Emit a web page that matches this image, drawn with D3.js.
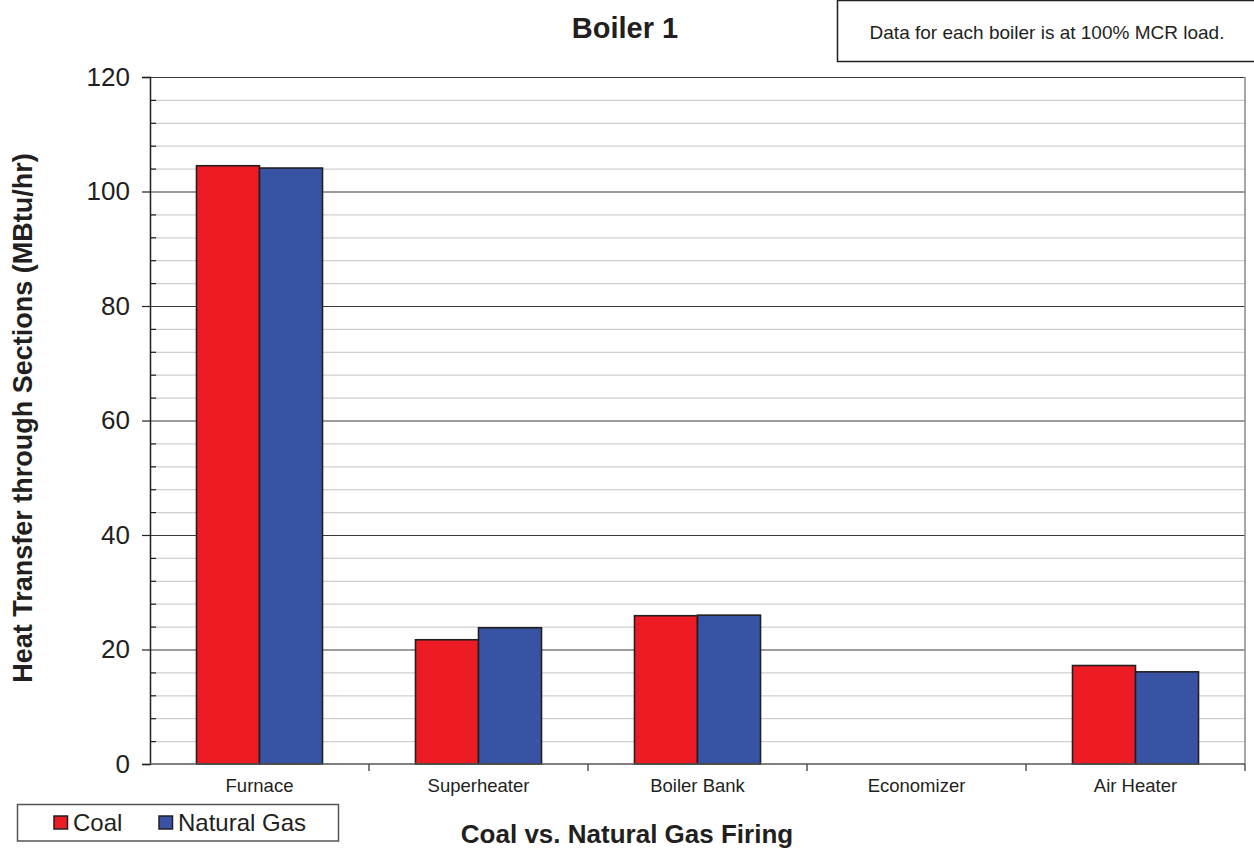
<!DOCTYPE html>
<html>
<head>
<meta charset="utf-8">
<script src="https://cdn.jsdelivr.net/npm/d3@7"></script>
<style>
  html, body { margin: 0; padding: 0; background: #fff; }
  svg { display: block; font-family: Arial, "Liberation Sans", sans-serif; }
</style>
</head>
<body>
<svg id="chart" width="1254" height="856"></svg>
<script>
// Heat transfer per boiler section, MBtu/hr
const categories = ["Furnace", "Superheater", "Boiler Bank", "Economizer", "Air Heater"];
const seriesNames = ["Coal", "Natural Gas"];
const coalValues = [104.5, 21.7, 25.9, 0, 17.2];
const gasValues = [104.1, 23.8, 26.0, 0, 16.1];
const yMajorTicks = [0, 20, 40, 60, 80, 100, 120];
const seriesColors = ["#ED1C24", "#3953A4"];

const svg = d3.select("#chart");
const plotLeft = 150, plotRight = 1245, plotTop = 77, plotBottom = 764;

const y = d3.scaleLinear().domain([0, 120]).range([plotBottom, plotTop]);
const x0 = d3.scaleBand().domain(categories).range([plotLeft, plotRight]).paddingInner(0).paddingOuter(0);
const x1 = d3.scaleBand().domain(seriesNames).range([0, x0.bandwidth()])
  .paddingInner(0).paddingOuter(0.738);
const color = d3.scaleOrdinal().domain(seriesNames).range(seriesColors);

const rows = categories.map((c, i) => ({ category: c, values: [coalValues[i], gasValues[i]] }));
const minorTicks = d3.range(0, 121, 4).filter(v => v % 20 !== 0);

// Minor gridlines
svg.append("g")
  .attr("transform", `translate(${plotLeft},0)`)
  .call(d3.axisLeft(y).tickValues(minorTicks).tickSize(-(plotRight - plotLeft)).tickFormat(""))
  .call(g => g.select(".domain").remove())
  .call(g => g.selectAll("line").attr("stroke", "#cfcfcf").attr("stroke-width", 1.2));

// Major gridlines
svg.append("g")
  .attr("transform", `translate(${plotLeft},0)`)
  .call(d3.axisLeft(y).tickValues(yMajorTicks.filter(v => v > 0)).tickSize(-(plotRight - plotLeft)).tickFormat(""))
  .call(g => g.select(".domain").remove())
  .call(g => g.selectAll("line").attr("stroke", "#3a3a3a").attr("stroke-width", 1));

// Right edge of plot area
svg.append("line")
  .attr("x1", plotRight).attr("x2", plotRight).attr("y1", plotTop).attr("y2", plotBottom)
  .attr("stroke", "#8a8a8a").attr("stroke-width", 1.5);

// Bars
const groups = svg.append("g").selectAll("g")
  .data(rows).join("g")
  .attr("transform", d => `translate(${x0(d.category)},0)`);

groups.selectAll("rect")
  .data(d => d.values.map((v, i) => ({ key: seriesNames[i], value: v })).filter(d => d.value > 0))
  .join("rect")
  .attr("x", d => x1(d.key))
  .attr("y", d => y(d.value))
  .attr("width", x1.bandwidth())
  .attr("height", d => y(0) - y(d.value))
  .attr("fill", d => color(d.key))
  .attr("stroke", "#231F20")
  .attr("stroke-width", 1.6);

// Y axis: major ticks outside, minor ticks inside
const yAxis = svg.append("g")
  .attr("transform", `translate(${plotLeft},0)`)
  .call(d3.axisLeft(y).tickValues(yMajorTicks).tickSize(8).tickPadding(12).tickFormat(d3.format("d")));
yAxis.select(".domain").attr("stroke", "#231F20").attr("stroke-width", 1.5);
yAxis.selectAll(".tick line").attr("stroke", "#231F20").attr("stroke-width", 1.2);
yAxis.selectAll(".tick text")
  .attr("font-size", 26).attr("fill", "#231F20")
  .attr("font-family", "Arial, 'Liberation Sans', sans-serif");

svg.append("g")
  .attr("transform", `translate(${plotLeft},0)`)
  .call(d3.axisLeft(y).tickValues(minorTicks).tickSize(-6).tickFormat(""))
  .call(g => g.select(".domain").remove())
  .call(g => g.selectAll("line").attr("stroke", "#231F20").attr("stroke-width", 1.2));

// X axis: baseline, ticks on category boundaries, labels at band centres
svg.append("line")
  .attr("x1", plotLeft).attr("x2", plotRight).attr("y1", y(0)).attr("y2", y(0))
  .attr("stroke", "#555").attr("stroke-width", 1.5);

const boundaries = categories.map(c => x0(c)).concat([x0(categories[categories.length - 1]) + x0.bandwidth()]);
svg.append("g").selectAll("line")
  .data(boundaries.slice(1)).join("line")
  .attr("x1", d => d).attr("x2", d => d)
  .attr("y1", y(0)).attr("y2", y(0) + 7)
  .attr("stroke", "#555").attr("stroke-width", 1.5);

svg.append("g").selectAll("text")
  .data(categories).join("text")
  .attr("x", d => x0(d) + x0.bandwidth() / 2)
  .attr("y", 792)
  .attr("text-anchor", "middle")
  .attr("font-size", 18.5)
  .attr("fill", "#231F20")
  .text(d => d);

// Titles
svg.append("text")
  .attr("x", 625).attr("y", 38)
  .attr("text-anchor", "middle")
  .attr("font-size", 29).attr("font-weight", "bold").attr("fill", "#231F20")
  .text("Boiler 1");

svg.append("text")
  .attr("x", 627).attr("y", 843)
  .attr("text-anchor", "middle")
  .attr("font-size", 26).attr("font-weight", "bold").attr("fill", "#231F20")
  .text("Coal vs. Natural Gas Firing");

svg.append("text")
  .attr("transform", "translate(32,418) rotate(-90)")
  .attr("text-anchor", "middle")
  .attr("font-size", 27).attr("font-weight", "bold").attr("fill", "#231F20")
  .text("Heat Transfer through Sections (MBtu/hr)");

// Note box
svg.append("rect")
  .attr("x", 837.5).attr("y", 0.5).attr("width", 430).attr("height", 61)
  .attr("fill", "#fff").attr("stroke", "#231F20").attr("stroke-width", 1.5);
svg.append("text")
  .attr("x", 1047).attr("y", 39)
  .attr("text-anchor", "middle")
  .attr("font-size", 19).attr("fill", "#231F20")
  .text("Data for each boiler is at 100% MCR load.");

// Legend
const legend = svg.append("g");
legend.append("rect")
  .attr("x", 17.5).attr("y", 804.5).attr("width", 321).attr("height", 36.5)
  .attr("fill", "#fff").attr("stroke", "#555").attr("stroke-width", 1.5);
const legendX = [54, 159];
const items = legend.selectAll("g.item")
  .data(seriesNames).join("g")
  .attr("class", "item")
  .attr("transform", (d, i) => `translate(${legendX[i]},816)`);
items.append("rect")
  .attr("width", 13.5).attr("height", 13)
  .attr("fill", d => color(d))
  .attr("stroke", "#231F20").attr("stroke-width", 1.5);
items.append("text")
  .attr("x", 19).attr("y", 15)
  .attr("font-size", 24).attr("fill", "#231F20")
  .text(d => d);
</script>
</body>
</html>
